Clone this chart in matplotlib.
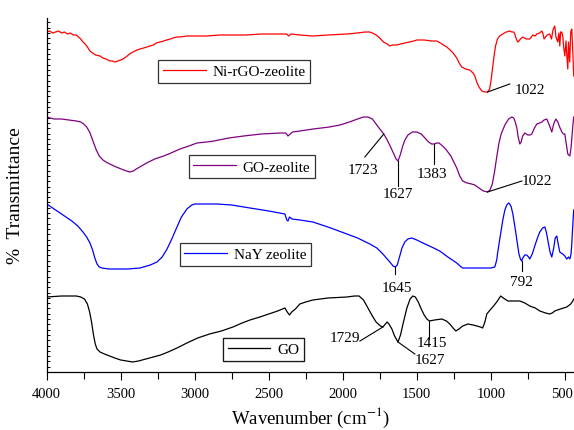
import numpy as np
import matplotlib
matplotlib.use("Agg")
import matplotlib.pyplot as plt
from matplotlib.ticker import MultipleLocator, NullFormatter
from matplotlib.transforms import ScaledTranslation

plt.rcParams['font.family'] = ['Liberation Serif', 'DejaVu Serif']
plt.rcParams['mathtext.fontset'] = 'stix'

# FTIR spectra (wavenumber in cm^-1, transmittance in arbitrary offset units)
wn_nirgo = [4000, 3980, 3960, 3940, 3920, 3900, 3880, 3860, 3840, 3820, 3800, 3785, 3770,
            3755, 3740, 3725, 3708, 3690, 3670, 3640, 3620, 3600, 3573, 3555, 3539, 3520,
            3500, 3485, 3465, 3440, 3417, 3390, 3370, 3345, 3323, 3300, 3280, 3260, 3235,
            3210, 3190, 3165, 3147, 3120, 3100, 3053, 2980, 2918, 2830, 2742, 2650, 2550,
            2445, 2380, 2365, 2350, 2290, 2202, 2100, 1972, 1900, 1850, 1820, 1800, 1775,
            1750, 1725, 1700, 1682, 1665, 1650, 1635, 1610, 1580, 1547, 1520, 1500, 1450,
            1400, 1365, 1340, 1320, 1297, 1275, 1255, 1230, 1210, 1196, 1170, 1142, 1120,
            1108, 1095, 1080, 1060, 1040, 1022, 1008, 998, 988, 978, 968, 955, 940, 919,
            895, 872, 858, 845, 838, 828, 818, 810, 800, 784, 760, 737, 716, 700, 690, 670,
            656, 649, 640, 635, 620, 602, 590, 580, 568, 560, 548, 540, 534, 528, 521, 514,
            508, 500, 492, 487, 480, 475, 467, 460, 453, 446, 440]
tr_nirgo = [340, 341, 339, 340, 341, 339, 340, 338, 339, 337, 337, 335, 333,
            330, 328, 325, 321, 319, 317, 316, 314, 313, 311, 311, 310, 311,
            312, 313, 315, 318, 320, 322, 323, 324, 325, 326, 327, 329, 330,
            331, 332, 333, 334, 335, 335, 336, 336, 336, 337, 337, 337, 338,
            338, 338, 336, 338, 337, 336, 337, 338, 339, 340, 340, 339, 337,
            334, 330, 328, 326, 327, 327, 327, 328, 329, 330, 331, 332, 332,
            331, 331, 329, 327, 325, 322, 319, 314, 308, 305, 303, 302, 299,
            296, 290, 285, 281, 280, 280, 283, 292, 304, 316, 326, 333, 336, 338,
            340, 341, 340, 340, 338, 333, 330, 331, 333, 335, 333, 333, 337, 336, 338, 339,
            341, 339, 333, 334, 337, 338, 333, 342, 346, 335, 330, 339, 326, 340, 340, 336,
            325, 316, 331, 318, 303, 330, 310, 340, 343, 320, 296]

wn_gozeo = [4000, 3950, 3900, 3850, 3800, 3770, 3750, 3730, 3710, 3695, 3680, 3665, 3645,
            3620, 3600, 3560, 3530, 3480, 3440, 3415, 3395, 3360, 3325, 3270, 3210, 3160,
            3100, 3040, 2985, 2920, 2870, 2770, 2670, 2550, 2420, 2385, 2370, 2355, 2340,
            2290, 2200, 2090, 2020, 1955, 1900, 1860, 1830, 1800, 1775, 1750, 1723, 1700,
            1680, 1655, 1640, 1627, 1612, 1595, 1580, 1560, 1530, 1500, 1470, 1445, 1420,
            1400, 1383, 1365, 1350, 1325, 1300, 1270, 1250, 1230, 1210, 1190, 1160, 1130,
            1108, 1080, 1050, 1022, 1005, 990, 975, 960, 945, 930, 905, 880, 858, 845, 835,
            824, 815, 804, 795, 785, 770, 760, 750, 735, 723, 705, 689, 670, 655, 640, 622,
            605, 588, 575, 561, 547, 535, 520, 510, 500, 490, 480, 466, 458, 453, 446, 440]
tr_gozeo = [255, 253, 253, 252, 251, 250, 248, 245, 240, 234, 228, 222, 216,
            212, 210, 207, 205, 202, 200, 201, 203, 206, 209, 213, 216, 219,
            223, 226, 229, 230, 231, 234, 236, 238, 239, 239, 236, 238, 240,
            241, 243, 245, 247, 250, 253, 255, 255, 253, 248, 243, 238, 232,
            226, 218, 213, 211, 217, 226, 232, 237, 240, 240, 238, 234, 230,
            228, 228, 229, 229, 226, 222, 216, 210, 204, 196, 191, 189, 188,
            187, 184, 181, 180, 182, 188, 200, 215, 229, 238, 247, 253, 255, 254, 250,
            244, 235, 228, 230, 236, 239, 238, 237, 237, 238, 244, 248, 249, 250, 252, 253,
            247, 240, 248, 253, 250, 245, 240, 238, 238, 228, 218, 216, 224, 233, 246, 255]

wn_nay = [4000, 3960, 3930, 3880, 3830, 3790, 3755, 3730, 3708, 3690, 3675, 3660, 3645,
          3627, 3580, 3525, 3450, 3370, 3300, 3255, 3220, 3187, 3155, 3120, 3090, 3053,
          3020, 2999, 2900, 2850, 2750, 2627, 2500, 2391, 2378, 2370, 2360, 2343, 2290,
          2202, 2100, 1972, 1900, 1817, 1770, 1729, 1700, 1682, 1660, 1645, 1632, 1615,
          1600, 1581, 1560, 1534, 1500, 1459, 1400, 1345, 1290, 1230, 1200, 1189, 1100,
          1000, 973, 960, 953, 935, 919, 905, 892, 880, 872, 862, 851, 838, 824, 810, 800,
          792, 784, 770, 757, 745, 737, 720, 703, 685, 669, 650, 635, 625, 615, 600, 588,
          575, 565, 554, 545, 534, 525, 514, 500, 487, 475, 466, 458, 453, 448, 443, 440]
tr_nay = [168, 164, 161, 156, 151, 146, 140, 135, 129, 122, 114, 108, 105,
          104, 103, 103, 103, 104, 107, 110, 115, 123, 133, 145, 155, 163,
          167, 168, 168, 168, 167, 164, 161, 158, 152, 151, 155, 153, 152,
          150, 145, 138, 134, 128, 124, 118, 113, 110, 106, 105, 107, 116,
          124, 130, 133, 134, 132, 129, 125, 121, 115, 109, 105, 104, 104,
          104, 105, 112, 120, 137, 152, 162, 167, 169, 168, 165, 158, 146, 132, 118, 113,
          111, 114, 117, 117, 115, 113, 118, 126, 134, 140, 144, 145, 140, 132, 120, 115,
          124, 134, 136, 128, 120, 119, 118, 116, 113, 115, 113, 118, 128, 142, 155, 162]

wn_go = [4000, 3900, 3800, 3770, 3745, 3725, 3710, 3697, 3685, 3672, 3660, 3640, 3610,
         3575, 3540, 3500, 3460, 3420, 3380, 3330, 3280, 3230, 3180, 3120, 3053, 2980,
         2900, 2820, 2742, 2680, 2627, 2560, 2500, 2440, 2391, 2375, 2360, 2345, 2320,
         2290, 2250, 2202, 2100, 1972, 1920, 1890, 1860, 1830, 1800, 1775, 1745, 1729,
         1712, 1700, 1688, 1668, 1650, 1627, 1610, 1590, 1567, 1545, 1527, 1510, 1490,
         1470, 1450, 1432, 1415, 1380, 1331, 1300, 1277, 1255, 1236, 1215, 1190, 1155,
         1120, 1094, 1070, 1055, 1040, 1027, 1005, 987, 960, 933, 915, 885, 850, 804,
         770, 737, 700, 669, 630, 602, 585, 568, 530, 487, 460, 446, 440]
tr_go = [75, 76, 76, 75, 73, 68, 60, 50, 38, 28, 23, 20, 18,
         16, 14, 12, 11, 10, 11, 13, 15, 17, 20, 24, 29, 34,
         38, 41, 45, 49, 52, 55, 58, 61, 64, 60, 57, 60, 63,
         68, 70, 72, 74, 75, 76, 76, 72, 64, 56, 50, 46, 45,
         48, 50, 48, 43, 36, 30, 37, 50, 64, 73, 76, 75, 70,
         63, 57, 53, 51, 52, 53, 51, 48, 44, 41, 43, 46, 48,
         47, 46, 45, 44, 50, 58, 62, 65, 70, 76, 74, 71, 71, 71,
         69, 66, 64, 61, 59, 58, 59, 61, 63, 65, 68, 71, 73]

x_ticks = [4000, 3500, 3000, 2500, 2000, 1500, 1000, 500]

series = [
    ("Ni-rGO-zeolite", wn_nirgo, tr_nirgo, "#ff0000", (0.356, 0.849)),
    ("GO-zeolite", wn_gozeo, tr_gozeo, "#800080", (0.389, 0.580)),
    ("NaY zeolite", wn_nay, tr_nay, "#0000ff", (0.377, 0.332)),
    ("GO", wn_go, tr_go, "#000000", (0.411, 0.064)),
]

# Peak annotations: (label, peak x, peak y, leader end x, leader end y, text x, text y, ha)
peak_notes = [
    ("1022", 1022, 280, 872, 288, 838, 283, "left"),
    ("1723", 1723, 238, 1851, 215, 1865, 203, "center"),
    ("1627", 1627, 211, 1627, 186, 1627, 178, "center"),
    ("1383", 1383, 228, 1383, 208, 1400, 199, "center"),
    ("1022", 1022, 180, 790, 191, 790, 191, "left"),
    ("1645", 1645, 105, 1645, 98, 1635, 85, "center"),
    ("792", 792, 111, 792, 101, 792, 91, "center"),
    ("1729", 1729, 45, 1884, 31, 1884, 34, "right"),
    ("1627", 1627, 30, 1513, 18, 1411, 12, "center"),
    ("1415", 1415, 51, 1415, 33, 1400, 29, "center"),
]

fig = plt.figure(figsize=(5.74, 4.31), dpi=100)
ax = fig.add_axes([46.7 / 574, 58 / 431, (574 - 46.7) / 574, 354 / 431])

for name, wn, tr, color, anchor in series:
    line, = ax.plot(wn, tr, color=color, lw=0.9)
    leg = ax.legend([line], [name], loc="center", bbox_to_anchor=anchor,
                    frameon=True, fancybox=False, fontsize=11, handlelength=2.8,
                    handletextpad=0.45, borderpad=0.3, borderaxespad=0)
    leg.get_frame().set_edgecolor("black")
    leg.get_frame().set_linewidth(0.9)
    ax.add_artist(leg)

for label, px, py, lx, ly, tx, ty, ha in peak_notes:
    ax.plot([px, lx], [py, ly], color="black", lw=0.8)
    ax.text(tx, ty, label, ha=ha, va="center", fontsize=11, color="black")

ax.set_xlim(4000, 438)
ax.set_ylim(0, 354)

ax.spines["top"].set_visible(False)
ax.spines["right"].set_visible(False)
for s in ("left", "bottom"):
    ax.spines[s].set_linewidth(0.9)

ax.set_xticks(x_ticks)
ax.xaxis.set_minor_locator(MultipleLocator(250))
ax.tick_params(axis="x", which="major", direction="out", length=6, width=0.8,
               labelsize=10.5, pad=5)
ax.tick_params(axis="x", which="minor", direction="out", length=5, width=0.8)

# keep the rightmost tick label inside the figure edge
last_tick = ax.xaxis.get_major_ticks()[len(x_ticks) - 1]
last_tick.label1.set_transform(last_tick.label1.get_transform() +
                               ScaledTranslation(-3 / 100, 0, fig.dpi_scale_trans))

ax.yaxis.set_major_locator(MultipleLocator(5.3))
ax.yaxis.set_major_formatter(NullFormatter())
ax.tick_params(axis="y", which="major", direction="in", length=2.5, width=0.7)

ax.set_xlabel("Wavenumber (cm$^{-1}$)", fontsize=13.5, labelpad=3)
ax.set_ylabel("%  Transmittance", fontsize=14, labelpad=13)

fig.savefig("out.png", dpi=100)
